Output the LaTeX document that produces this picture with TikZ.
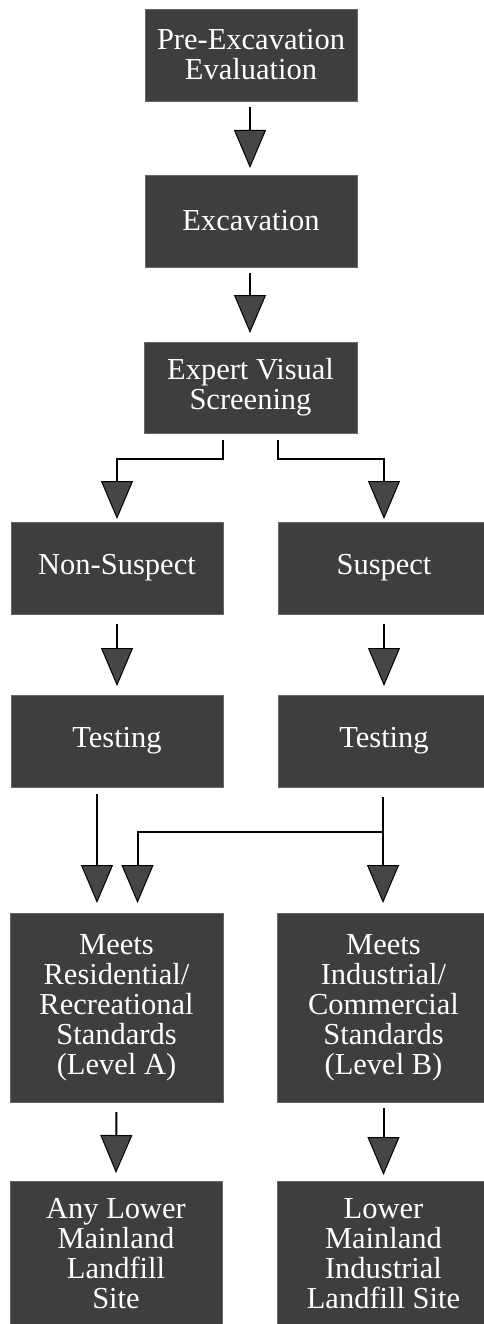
\documentclass[tikz,border=0pt]{standalone}
\usepackage{fontspec}
\setmainfont{Liberation Serif}
\usetikzlibrary{arrows.meta,calc}
\definecolor{boxgray}{RGB}{62,62,62}
\definecolor{tipgray}{RGB}{70,70,70}
\tikzset{
  flowbox/.style={fill=boxgray, draw=boxgray!80!white, line width=0.8pt, text=white,
    minimum width=212pt, inner sep=0pt, outer sep=0pt, align=center,
    font=\fontsize{30.5}{30}\selectfont},
  conn/.style={line width=2pt, draw=black,
    -{Triangle[width=32pt,length=38pt,fill=tipgray,line width=1pt]}}
}
\begin{document}
\begin{tikzpicture}[x=1pt,y=-1pt]
\useasboundingbox (0,0) rectangle (484,1324);
\begin{scope}
\clip (0,0) rectangle (484,1324);
\node[flowbox, minimum height=92pt] (pre) at (251,55) {Pre-Excavation\\Evaluation};
\node[flowbox, minimum height=92pt] (exc) at (251,221) {Excavation};
\node[flowbox, minimum height=91pt, minimum width=213pt] (evs) at (250.5,387.5) {Expert Visual\\Screening};
\node[flowbox, minimum height=92pt] (ns) at (117,568) {Non-Suspect};
\node[flowbox, minimum height=92pt] (sus) at (384,568) {Suspect};
\node[flowbox, minimum height=92pt] (t1) at (117,741) {Testing};
\node[flowbox, minimum height=92pt] (t2) at (384,741) {Testing};
\node[flowbox, minimum height=189pt, minimum width=213pt] (ma) at (116.5,1007.5) {Meets\\Residential/\\Recreational\\Standards\\(Level A)};
\node[flowbox, minimum height=189pt, minimum width=213pt] (mb) at (383.5,1007.5) {Meets\\Industrial/\\Commercial\\Standards\\(Level B)};
\node[flowbox, minimum height=146pt] (la) at (116,1254) {Any Lower\\Mainland\\Landfill\\Site};
\node[flowbox, minimum height=146pt, minimum width=213pt] (lb) at (383.5,1254) {Lower\\Mainland\\Industrial\\Landfill Site};
\end{scope}

\draw[conn] ([xshift=-1pt,yshift=-6pt]pre.south) -- ([xshift=-1pt,yshift=7pt]exc.north);
\draw[conn] ([xshift=-1pt,yshift=-6pt]exc.south) -- ([xshift=-0.5pt,yshift=9pt]evs.north);

\coordinate (el) at ([yshift=-7pt]evs.south -| ns.east);
\coordinate (er) at ([yshift=-7pt]evs.south -| sus.west);
\draw[conn] (el) -- ++(0,19) -| ([yshift=3pt]ns.north);
\draw[conn] (er) -- ++(0,19) -| ([yshift=3pt]sus.north);

\draw[conn] ([yshift=-10pt]ns.south) -- ([yshift=9pt]t1.north);
\draw[conn] ([yshift=-10pt]sus.south) -- ([yshift=9pt]t2.north);

\draw[conn] ([xshift=-20pt,yshift=-7pt]t1.south) -- ([xshift=-19.5pt,yshift=10pt]ma.north);
\draw[conn] ([xshift=-1pt,yshift=-10pt]t2.south) -- ([xshift=-0.5pt,yshift=10pt]mb.north);
\coordinate (j) at ([yshift=-45pt]t2.south);
\draw[conn] ([xshift=-1pt]j) -| ([xshift=21pt,yshift=10pt]ma.north);

\draw[conn] ([yshift=-10pt]ma.south) -- ([yshift=8pt]la.north);
\draw[conn] ([yshift=-6pt]mb.south) -- ([yshift=6pt]lb.north);
\end{tikzpicture}
\end{document}
